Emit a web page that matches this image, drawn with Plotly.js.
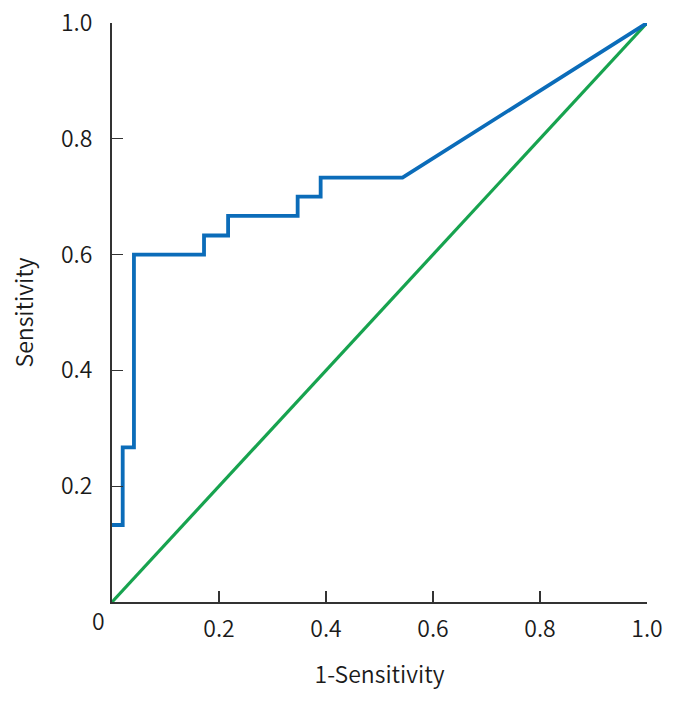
<!DOCTYPE html>
<html>
<head>
<meta charset="utf-8">
<script src="https://cdn.plot.ly/plotly-3.0.1.min.js"></script>
<style>html,body{margin:0;padding:0;background:#fff;}#chart{width:677px;height:704px;}</style>
</head>
<body>
<div id="chart"></div>
<script>
// ROC curve points (1-specificity, sensitivity)
const rocX = [0, 0.02, 0.02, 0.041, 0.041, 0.172, 0.172, 0.217, 0.217, 0.347, 0.347, 0.39, 0.39, 0.543, 1];
const rocY = [0.133, 0.133, 0.267, 0.267, 0.6, 0.6, 0.633, 0.633, 0.667, 0.667, 0.7, 0.7, 0.733, 0.733, 1];
// Reference (chance) line
const refX = [0, 1];
const refY = [0, 1];
const tickVals = [0.2, 0.4, 0.6, 0.8, 1.0];
const tickText = ["0.2", "0.4", "0.6", "0.8", "1.0"];

const FONT = "Noto Sans CJK KR, Noto Sans, sans-serif";
const TXT = "#1a1a1a";
const W = 350;

const traces = [
  {x: refX, y: refY, mode: "lines", line: {color: "#17a34f", width: 3.2}, cliponaxis: false, hoverinfo: "skip"},
  {x: rocX, y: rocY, mode: "lines", line: {color: "#0b6cb9", width: 3.8}, cliponaxis: false, hoverinfo: "skip"}
];

const axisCommon = {
  range: [0, 1],
  showgrid: false,
  zeroline: false,
  showline: true,
  linecolor: "#333",
  linewidth: 2,
  ticks: "inside",
  ticklen: 11,
  tickwidth: 1.3,
  tickcolor: "#333",
  tickvals: tickVals,
  ticktext: tickText,
  tickfont: {family: FONT, size: 23, color: TXT, weight: W},
  fixedrange: true
};

const layout = {
  width: 677,
  height: 704,
  margin: {l: 112, r: 30, t: 23, b: 102},
  paper_bgcolor: "#fff",
  plot_bgcolor: "#fff",
  showlegend: false,
  xaxis: Object.assign({}, axisCommon, {
    ticklabelstandoff: 5,
    title: {text: "1-Sensitivity", font: {family: FONT, size: 23, color: TXT, weight: W}, standoff: 24}
  }),
  yaxis: Object.assign({}, axisCommon, {
    ticklabelstandoff: 13,
    title: {text: "Sensitivity", font: {family: FONT, size: 23, color: TXT, weight: W}, standoff: 21}
  }),
  annotations: [
    {x: 0, y: 0, xref: "x", yref: "y", text: "0", showarrow: false,
     xanchor: "center", yanchor: "middle", xshift: -14, yshift: -18,
     font: {family: FONT, size: 23, color: TXT, weight: W}}
  ]
};

Plotly.newPlot("chart", traces, layout, {displayModeBar: false, staticPlot: true});
</script>
</body>
</html>
